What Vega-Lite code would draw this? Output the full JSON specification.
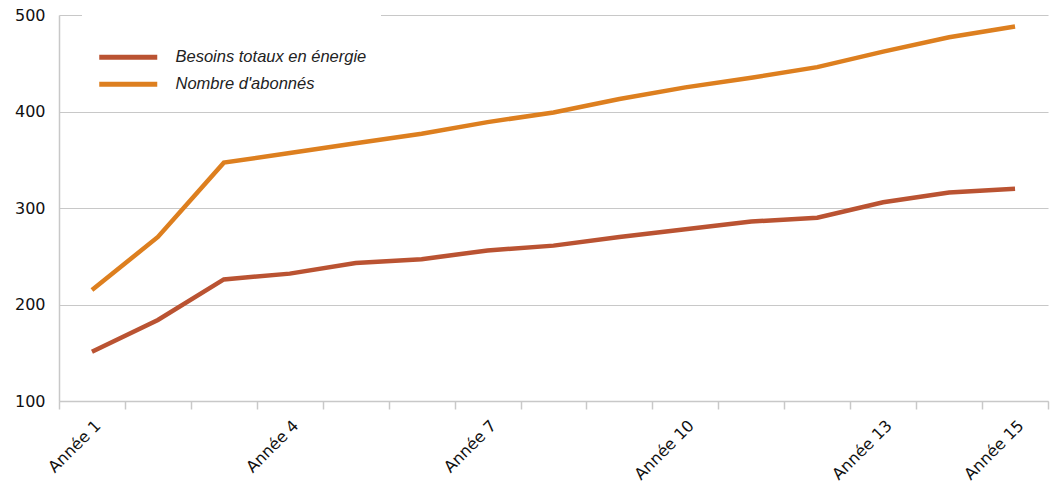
{
  "$schema": "https://vega.github.io/schema/vega-lite/v6.json",
  "width": 989,
  "height": 386,
  "autosize": "none",
  "padding": {"left": 59, "top": 15, "right": 3, "bottom": 91},
  "background": "white",
  "config": {
    "view": {"stroke": null},
    "font": "DejaVu Sans"
  },
  "data": {
    "values": [
      {"annee": "Année 1", "serie": "Besoins totaux en énergie", "valeur": 151},
      {"annee": "Année 2", "serie": "Besoins totaux en énergie", "valeur": 184},
      {"annee": "Année 3", "serie": "Besoins totaux en énergie", "valeur": 226},
      {"annee": "Année 4", "serie": "Besoins totaux en énergie", "valeur": 232},
      {"annee": "Année 5", "serie": "Besoins totaux en énergie", "valeur": 243},
      {"annee": "Année 6", "serie": "Besoins totaux en énergie", "valeur": 247},
      {"annee": "Année 7", "serie": "Besoins totaux en énergie", "valeur": 256},
      {"annee": "Année 8", "serie": "Besoins totaux en énergie", "valeur": 261},
      {"annee": "Année 9", "serie": "Besoins totaux en énergie", "valeur": 270},
      {"annee": "Année 10", "serie": "Besoins totaux en énergie", "valeur": 278},
      {"annee": "Année 11", "serie": "Besoins totaux en énergie", "valeur": 286},
      {"annee": "Année 12", "serie": "Besoins totaux en énergie", "valeur": 290},
      {"annee": "Année 13", "serie": "Besoins totaux en énergie", "valeur": 306},
      {"annee": "Année 14", "serie": "Besoins totaux en énergie", "valeur": 316},
      {"annee": "Année 15", "serie": "Besoins totaux en énergie", "valeur": 320},
      {"annee": "Année 1", "serie": "Nombre d'abonnés", "valeur": 215},
      {"annee": "Année 2", "serie": "Nombre d'abonnés", "valeur": 270},
      {"annee": "Année 3", "serie": "Nombre d'abonnés", "valeur": 347},
      {"annee": "Année 4", "serie": "Nombre d'abonnés", "valeur": 357},
      {"annee": "Année 5", "serie": "Nombre d'abonnés", "valeur": 367},
      {"annee": "Année 6", "serie": "Nombre d'abonnés", "valeur": 377},
      {"annee": "Année 7", "serie": "Nombre d'abonnés", "valeur": 389},
      {"annee": "Année 8", "serie": "Nombre d'abonnés", "valeur": 399},
      {"annee": "Année 9", "serie": "Nombre d'abonnés", "valeur": 413},
      {"annee": "Année 10", "serie": "Nombre d'abonnés", "valeur": 425},
      {"annee": "Année 11", "serie": "Nombre d'abonnés", "valeur": 435},
      {"annee": "Année 12", "serie": "Nombre d'abonnés", "valeur": 446},
      {"annee": "Année 13", "serie": "Nombre d'abonnés", "valeur": 462},
      {"annee": "Année 14", "serie": "Nombre d'abonnés", "valeur": 477},
      {"annee": "Année 15", "serie": "Nombre d'abonnés", "valeur": 488}
    ]
  },
  "mark": {"type": "line", "strokeWidth": 4.5, "strokeCap": "butt", "strokeJoin": "miter"},
  "encoding": {
    "x": {
      "field": "annee",
      "type": "nominal",
      "sort": ["Année 1","Année 2","Année 3","Année 4","Année 5","Année 6","Année 7","Année 8","Année 9","Année 10","Année 11","Année 12","Année 13","Année 14","Année 15"],
      "scale": {"type": "band", "paddingInner": 0, "paddingOuter": 0},
      "axis": {
        "title": null,
        "grid": false,
        "tickBand": "extent",
        "domainColor": "#c8c8c8",
        "domainWidth": 1.5,
        "tickColor": "#c8c8c8",
        "tickWidth": 1.5,
        "tickSize": 8,
        "labelAngle": -45,
        "labelAlign": "right",
        "labelBaseline": "top",
        "labelPadding": 8,
        "labelFontSize": 16,
        "labelFontWeight": 500,
        "labelColor": "#111111",
        "labelFont": "DejaVu Sans",
        "labelOverlap": false,
        "labelExpr": "indexof(['Année 1','Année 4','Année 7','Année 10','Année 13','Année 15'], datum.value) >= 0 ? datum.value : ''"
      }
    },
    "y": {
      "field": "valeur",
      "type": "quantitative",
      "scale": {"domain": [100, 500], "nice": false, "zero": false},
      "axis": {
        "title": null,
        "values": [100, 200, 300, 400, 500],
        "grid": true,
        "gridColor": "#c8c8c8",
        "gridWidth": 1.2,
        "ticks": false,
        "domainColor": "#c8c8c8",
        "domainWidth": 1.5,
        "labelPadding": 14,
        "labelFontSize": 16,
        "labelFontWeight": 500,
        "labelColor": "#111111",
        "labelFont": "DejaVu Sans"
      }
    },
    "color": {
      "field": "serie",
      "type": "nominal",
      "scale": {
        "domain": ["Besoins totaux en énergie", "Nombre d'abonnés"],
        "range": ["#BA5332", "#DD7F1F"]
      },
      "legend": {
        "title": " ",
        "titleFontSize": 9,
        "titlePadding": 18,
        "orient": "none",
        "legendX": 23,
        "legendY": -7,
        "fillColor": "white",
        "padding": 14,
        "symbolType": "M-1,0L10.6,0",
        "symbolStrokeWidth": 5,
        "symbolSize": 100,
        "labelFontSize": 16.5,
        "labelFontStyle": "italic",
        "labelColor": "#222222",
        "labelFont": "Liberation Sans",
        "labelOffset": 63,
        "rowPadding": 6,
        "labelLimit": 400
      }
    }
  }
}
